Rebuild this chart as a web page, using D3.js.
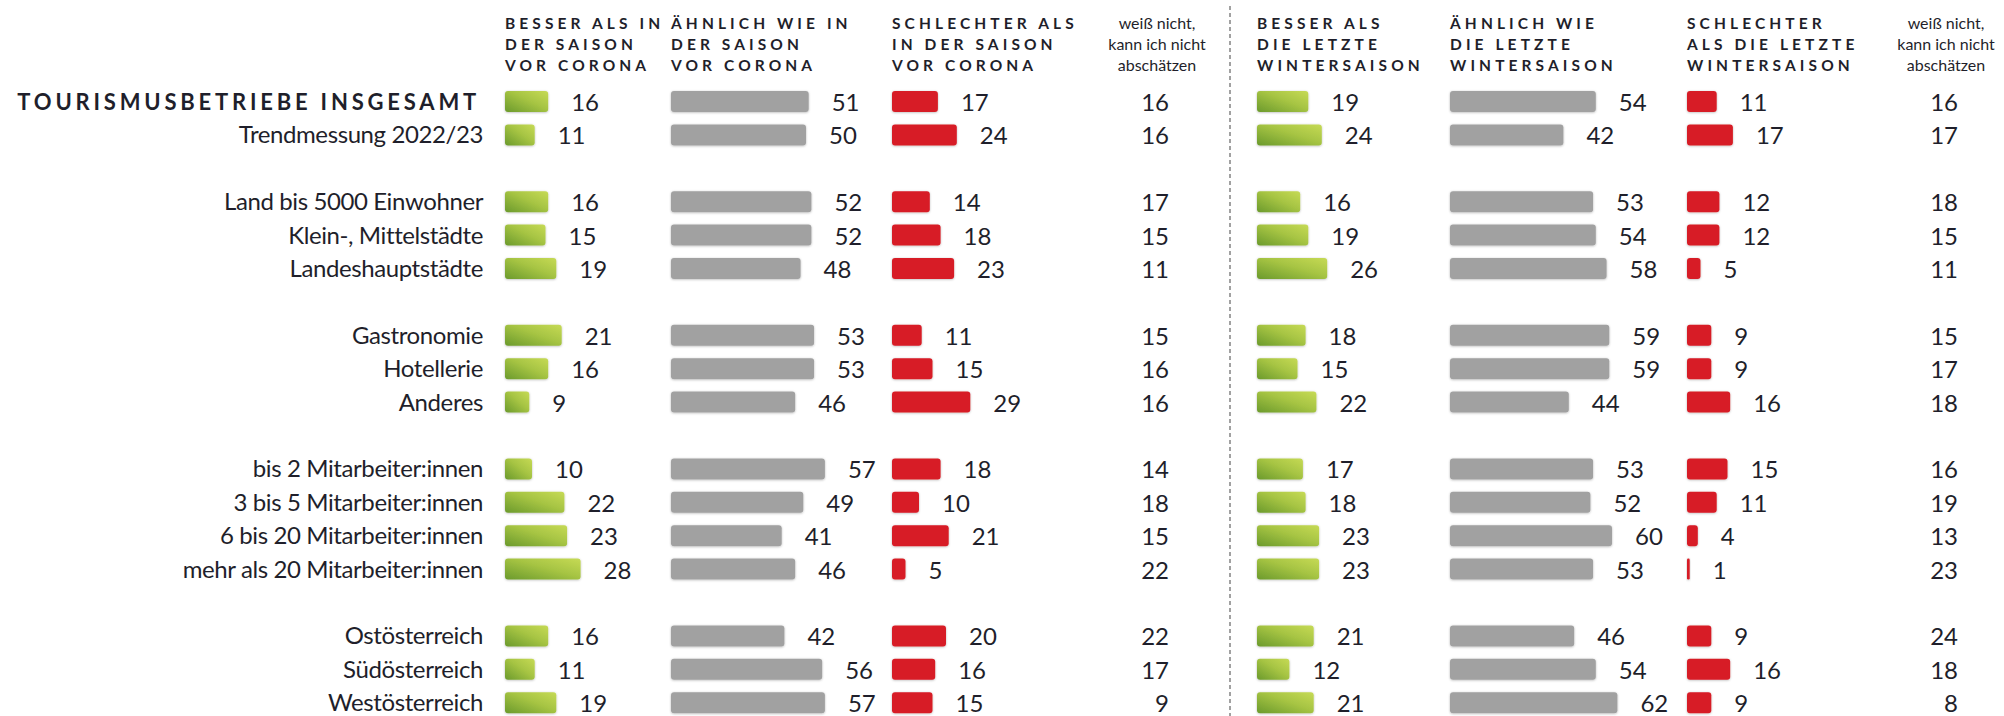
<!DOCTYPE html>
<html lang="de">
<head>
<meta charset="utf-8">
<script src="https://cdn.jsdelivr.net/npm/d3@7"></script>
<style>
  html, body { margin: 0; padding: 0; background: #ffffff; }
  svg { display: block; }
  text { font-family: Lato, "Open Sans", sans-serif; fill: #1f1f2b; }
</style>
</head>
<body>
<svg id="chart" width="2004" height="716"></svg>
<script>
// Row labels (first row is the overall total, drawn in caps)
const categories = [
  "TOURISMUSBETRIEBE INSGESAMT",
  "Trendmessung 2022/23",
  "Land bis 5000 Einwohner",
  "Klein-, Mittelstädte",
  "Landeshauptstädte",
  "Gastronomie",
  "Hotellerie",
  "Anderes",
  "bis 2 Mitarbeiter:innen",
  "3 bis 5 Mitarbeiter:innen",
  "6 bis 20 Mitarbeiter:innen",
  "mehr als 20 Mitarbeiter:innen",
  "Ostösterreich",
  "Südösterreich",
  "Westösterreich"
];
// Grid slot of each row (blank slots separate the groups)
const rowSlots = [0, 1, 3, 4, 5, 7, 8, 9, 11, 12, 13, 14, 16, 17, 18];

// Compared with the season before Corona (%)
const preBetter  = [16, 11, 16, 15, 19, 21, 16,  9, 10, 22, 23, 28, 16, 11, 19];
const preSimilar = [51, 50, 52, 52, 48, 53, 53, 46, 57, 49, 41, 46, 42, 56, 57];
const preWorse   = [17, 24, 14, 18, 23, 11, 15, 29, 18, 10, 21,  5, 20, 16, 15];
const preUnsure  = [16, 16, 17, 15, 11, 15, 16, 16, 14, 18, 15, 22, 22, 17,  9];

// Compared with the last winter season (%)
const winBetter  = [19, 24, 16, 19, 26, 18, 15, 22, 17, 18, 23, 23, 21, 12, 21];
const winSimilar = [54, 42, 53, 54, 58, 59, 59, 44, 53, 52, 60, 53, 46, 54, 62];
const winWorse   = [11, 17, 12, 12,  5,  9,  9, 16, 15, 11,  4,  1,  9, 16,  9];
const winUnsure  = [16, 17, 18, 15, 11, 15, 17, 18, 16, 19, 13, 23, 24, 18,  8];

// Column headers
const preHeaders = [
  ["BESSER ALS IN", "DER SAISON", "VOR CORONA"],
  ["ÄHNLICH WIE IN", "DER SAISON", "VOR CORONA"],
  ["SCHLECHTER ALS", "IN DER SAISON", "VOR CORONA"]
];
const winHeaders = [
  ["BESSER ALS", "DIE LETZTE", "WINTERSAISON"],
  ["ÄHNLICH WIE", "DIE LETZTE", "WINTERSAISON"],
  ["SCHLECHTER", "ALS DIE LETZTE", "WINTERSAISON"]
];
const unsureHeader = ["weiß nicht,", "kann ich nicht", "abschätzen"];

const svg = d3.select("#chart");
const defs = svg.append("defs");

const grad = defs.append("linearGradient")
  .attr("id", "greenGrad")
  .attr("x1", "0").attr("y1", "1").attr("x2", "1").attr("y2", "0");
grad.append("stop").attr("offset", "0%").attr("stop-color", "#6b9a2c");
grad.append("stop").attr("offset", "55%").attr("stop-color", "#a6c443");
grad.append("stop").attr("offset", "100%").attr("stop-color", "#c6da55");

const soft = defs.append("filter").attr("id", "soft")
  .attr("x", "-20%").attr("y", "-30%").attr("width", "140%").attr("height", "160%");
soft.append("feDropShadow").attr("dx", 0).attr("dy", 0.6)
  .attr("stdDeviation", 1.1).attr("flood-color", "#000").attr("flood-opacity", 0.28);

// Scales
const x = d3.scaleLinear().domain([0, 100]).range([0, 270]);
const y = d3.scalePoint().domain(d3.range(19)).range([101.5, 702.7]);
const barH = 21;

const panels = [
  { starts: [505, 671, 892], unsureRight: 1169, unsureCenter: 1157,
    series: [preBetter, preSimilar, preWorse], unsure: preUnsure, headers: preHeaders },
  { starts: [1257, 1450, 1687], unsureRight: 1958, unsureCenter: 1946,
    series: [winBetter, winSimilar, winWorse], unsure: winUnsure, headers: winHeaders }
];
const fills = ["url(#greenGrad)", "#a1a1a1", "#d71e26"];

const headBase = [29, 50, 71];

// Row labels
svg.append("g").selectAll("text")
  .data(categories)
  .join("text")
  .attr("x", (d, i) => i === 0 ? 480 : 483)
  .attr("y", (d, i) => y(rowSlots[i]) + 8.5)
  .attr("text-anchor", "end")
  .attr("font-size", (d, i) => i === 0 ? 22 : 24)
  .attr("font-weight", (d, i) => i === 0 ? 700 : 400)
  .attr("letter-spacing", (d, i) => i === 0 ? 3.8 : -0.4)
  .text(d => d);

panels.forEach(p => {
  const g = svg.append("g");

  // Column headers
  p.headers.forEach((lines, c) => {
    g.append("text")
      .attr("x", p.starts[c])
      .attr("font-size", 15.5)
      .attr("font-weight", 700)
      .attr("letter-spacing", 4.1)
      .attr("fill", "#2b2b33")
      .selectAll("tspan")
      .data(lines)
      .join("tspan")
      .attr("x", p.starts[c])
      .attr("y", (d, k) => headBase[k])
      .text(d => d);
  });
  g.append("text")
    .attr("font-size", 16)
    .attr("text-anchor", "middle")
    .selectAll("tspan")
    .data(unsureHeader)
    .join("tspan")
    .attr("x", p.unsureCenter)
    .attr("y", (d, k) => headBase[k])
    .text(d => d);

  // Bars and value labels
  p.series.forEach((vals, c) => {
    const col = g.append("g").attr("transform", `translate(${p.starts[c]},0)`);
    col.selectAll("rect")
      .data(vals)
      .join("rect")
      .attr("x", 0)
      .attr("y", (d, i) => y(rowSlots[i]) - barH / 2)
      .attr("width", d => x(d))
      .attr("height", barH)
      .attr("rx", d => Math.min(3, x(d) / 2))
      .attr("fill", fills[c])
      .attr("filter", "url(#soft)");
    col.selectAll("text")
      .data(vals)
      .join("text")
      .attr("x", d => x(d) + 23)
      .attr("y", (d, i) => y(rowSlots[i]) + 9.5)
      .attr("font-size", 24)
      .text(d => d);
  });

  g.append("g").selectAll("text")
    .data(p.unsure)
    .join("text")
    .attr("x", p.unsureRight)
    .attr("y", (d, i) => y(rowSlots[i]) + 9.5)
    .attr("text-anchor", "end")
    .attr("font-size", 24)
    .text(d => d);
});

// Divider between the two comparisons
svg.append("line")
  .attr("x1", 1230).attr("x2", 1230)
  .attr("y1", 6).attr("y2", 716)
  .attr("stroke", "#7a7a7a")
  .attr("stroke-width", 1.4)
  .attr("stroke-dasharray", "4,3");
</script>
</body>
</html>
